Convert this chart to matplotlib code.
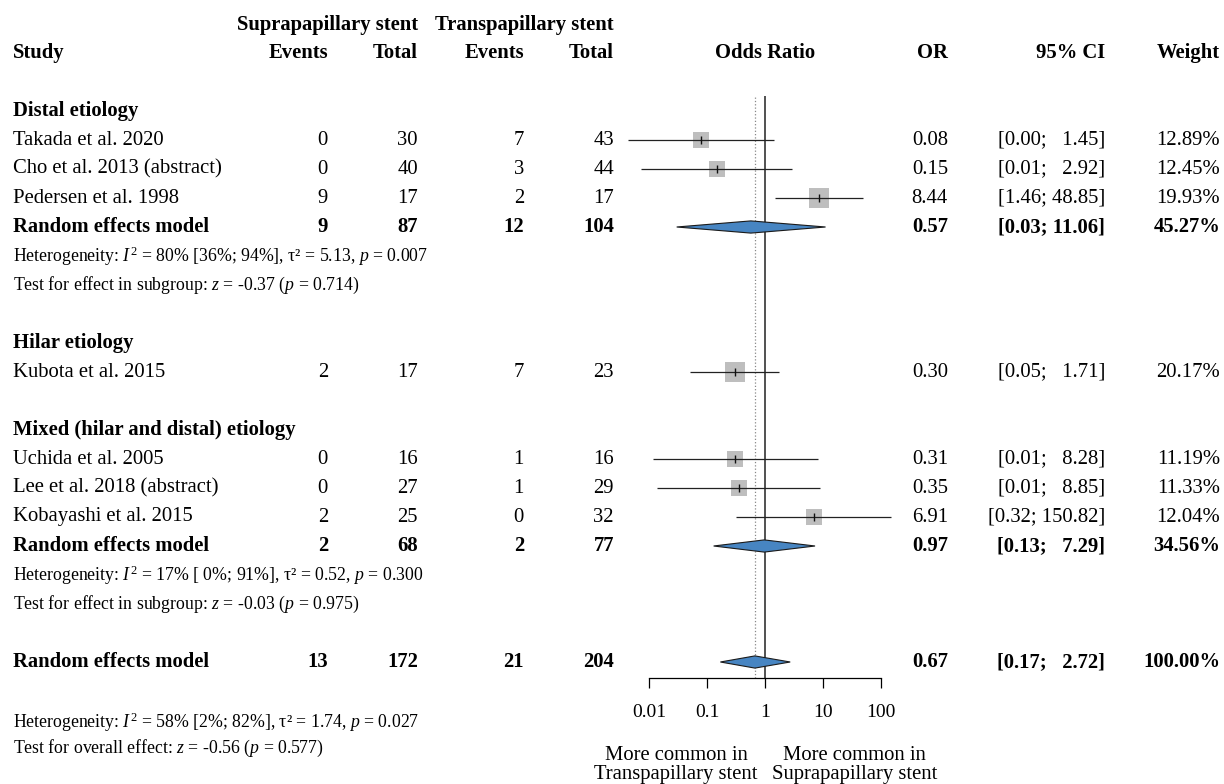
import numpy as np
import matplotlib
matplotlib.use("Agg")
import matplotlib.pyplot as plt

plt.rcParams['font.family'] = ['Liberation Serif', 'DejaVu Serif']
plt.rcParams['mathtext.fontset'] = 'custom'
plt.rcParams['mathtext.rm'] = 'Liberation Serif'
plt.rcParams['mathtext.it'] = 'Liberation Serif:italic'
plt.rcParams['mathtext.bf'] = 'Liberation Serif:bold'

# ---- data ----
studies = ["Takada et al. 2020", "Cho et al. 2013 (abstract)", "Pedersen et al. 1998",
           "Kubota et al. 2015",
           "Uchida et al. 2005", "Lee et al. 2018 (abstract)", "Kobayashi et al. 2015"]
groups = ["Distal etiology"] * 3 + ["Hilar etiology"] + ["Mixed (hilar and distal) etiology"] * 3
ev_supra = [0, 0, 9, 2, 0, 0, 2]
n_supra = [30, 40, 17, 17, 16, 27, 25]
ev_trans = [7, 3, 2, 7, 1, 1, 0]
n_trans = [43, 44, 17, 23, 16, 29, 32]
odds = [0.08, 0.15, 8.44, 0.30, 0.31, 0.35, 6.91]
ci_lo = [0.0044, 0.0072, 1.46, 0.05, 0.0117, 0.0136, 0.32]
ci_hi = [1.45, 2.92, 48.85, 1.71, 8.28, 8.85, 150.82]
weight = [12.89, 12.45, 19.93, 20.17, 11.19, 11.33, 12.04]

# pooled subgroup results (only subgroups with >1 study)
sub_names = ["Distal etiology", "Mixed (hilar and distal) etiology"]
sub_ev_supra = [9, 2]
sub_n_supra = [87, 68]
sub_ev_trans = [12, 2]
sub_n_trans = [104, 77]
sub_or = [0.57, 0.97]
sub_lo = [0.03, 0.13]
sub_hi = [11.06, 7.29]
sub_w = [45.27, 34.56]
sub_het = [r"Heterogeneity: $I^2$ = 80% [36%; 94%], τ² = 5.13, $p$ = 0.007",
           r"Heterogeneity: $I^2$ = 17% [ 0%; 91%], τ² = 0.52, $p$ = 0.300"]
sub_test = [r"Test for effect in subgroup: $z$ = -0.37 ($p$ = 0.714)",
            r"Test for effect in subgroup: $z$ = -0.03 ($p$ = 0.975)"]

tot_ev_supra, tot_n_supra, tot_ev_trans, tot_n_trans = 13, 172, 21, 204
tot_or, tot_lo, tot_hi = 0.67, 0.17, 2.72
tot_het = r"Heterogeneity: $I^2$ = 58% [2%; 82%], τ² = 1.74, $p$ = 0.027"
tot_test = r"Test for overall effect: $z$ = -0.56 ($p$ = 0.577)"

ticks = [0.01, 0.1, 1, 10, 100]
tick_labels = ["0.01", "0.1", "1", "10", "100"]

# ---- layout (pixels) ----
W, H = 1224, 784
Y0, DY = 53, 29          # header row y and row pitch
def ypx(i):
    return Y0 + DY * i

X_STUDY, X_EV1, X_N1, X_EV2, X_N2 = 13, 328, 418, 524, 614
X_OR, X_CI, X_W, X_LAB = 948, 1105, 1220, 765
AX_L, AX_R, AX_TOP, AX_BOT = 649, 881, 96, 678
FS, FS_S = 14.9, 12.8
SQ_COL = '#BEBEBE'
DIA_COL = '#4785C2'
FIG_SP = '\u2007'

fig = plt.figure(figsize=(W / 100, H / 100), dpi=100)
tax = fig.add_axes([0, 0, 1, 1])
tax.set_xlim(0, W)
tax.set_ylim(H, 0)
tax.axis('off')

ax = fig.add_axes([AX_L / W, 1 - AX_BOT / H, (AX_R - AX_L) / W, (AX_BOT - AX_TOP) / H])
ax.patch.set_visible(False)
ax.set_xscale('log')
ax.set_xlim(0.01, 100)
ax.set_ylim((AX_BOT - Y0) / DY, (AX_TOP - Y0) / DY)
for s in ['top', 'left', 'right']:
    ax.spines[s].set_visible(False)
ax.spines['bottom'].set_linewidth(0.9)
ax.set_yticks([])
ax.set_xticks(ticks)
ax.set_xticklabels(tick_labels)
ax.minorticks_off()
ax.tick_params(axis='x', direction='out', length=7.5, width=0.9, labelsize=14, pad=11)

def txt(x, i, s, ha='right', bold=False, size=FS):
    tax.text(x, ypx(i), s, ha=ha, va='center', fontsize=size,
             fontweight='bold' if bold else 'normal')

def ci_text(lo, hi):
    up = f"{hi:.2f}"
    pad = FIG_SP * max(0, 5 - len(up))
    return f"[{lo:.2f}; {pad}{up}]"

def row_values(i, e1, n1, e2, n2, orv, lo, hi, w, bold=False):
    txt(X_EV1, i, str(e1), bold=bold)
    txt(X_N1, i, str(n1), bold=bold)
    txt(X_EV2, i, str(e2), bold=bold)
    txt(X_N2, i, str(n2), bold=bold)
    txt(X_OR, i, f"{orv:.2f}", bold=bold)
    txt(X_CI, i, ci_text(lo, hi), bold=bold)
    txt(X_W, i, f"{w:.2f}%", bold=bold)

def diamond(i, est, lo, hi):
    h = 0.21
    ax.fill([lo, est, hi, est], [i, i - h, i, i + h], facecolor=DIA_COL,
            edgecolor='#1a1a1a', lw=0.8, zorder=4, clip_on=False)

# headers
tax.text(X_N1, 25, "Suprapapillary stent", ha='right', va='center', fontsize=FS, fontweight='bold')
tax.text(X_N2, 25, "Transpapillary stent", ha='right', va='center', fontsize=FS, fontweight='bold')
txt(X_STUDY, 0, "Study", ha='left', bold=True)
for x, lab in [(X_EV1, "Events"), (X_N1, "Total"), (X_EV2, "Events"), (X_N2, "Total"),
               (X_OR, "OR"), (X_CI, "95% CI"), (X_W, "Weight")]:
    txt(x, 0, lab, bold=True)
txt(X_LAB, 0, "Odds Ratio", ha='center', bold=True)

# reference lines
ax.axvline(1, color='#222222', lw=1.1, zorder=1)
ax.axvline(tot_or, color='#888888', lw=0.9, ls=':', zorder=1)

# study rows, grouped
i = 2
for g in ["Distal etiology", "Hilar etiology", "Mixed (hilar and distal) etiology"]:
    txt(X_STUDY, i, g, ha='left', bold=True)
    i += 1
    idx = [k for k in range(len(studies)) if groups[k] == g]
    for k in idx:
        txt(X_STUDY, i, studies[k], ha='left')
        row_values(i, ev_supra[k], n_supra[k], ev_trans[k], n_trans[k],
                   odds[k], ci_lo[k], ci_hi[k], weight[k])
        side = 4.5 * np.sqrt(weight[k]) * 0.72
        ax.scatter(odds[k], i, marker='s', s=side ** 2, color=SQ_COL, lw=0, zorder=2)
        ax.hlines(i, ci_lo[k], ci_hi[k], color='#222222', lw=0.9, zorder=3, clip_on=False)
        ax.scatter(odds[k], i, marker='|', s=30, color='#111111', lw=1.0, zorder=3)
        i += 1
    if g in sub_names:
        j = sub_names.index(g)
        txt(X_STUDY, i, "Random effects model", ha='left', bold=True)
        row_values(i, sub_ev_supra[j], sub_n_supra[j], sub_ev_trans[j], sub_n_trans[j],
                   sub_or[j], sub_lo[j], sub_hi[j], sub_w[j], bold=True)
        diamond(i, sub_or[j], sub_lo[j], sub_hi[j])
        txt(X_STUDY, i + 1, sub_het[j], ha='left', size=FS_S)
        txt(X_STUDY, i + 2, sub_test[j], ha='left', size=FS_S)
        i += 4
    else:
        i += 1

# overall
i = 21
txt(X_STUDY, i, "Random effects model", ha='left', bold=True)
row_values(i, tot_ev_supra, tot_n_supra, tot_ev_trans, tot_n_trans,
           tot_or, tot_lo, tot_hi, 100.0, bold=True)
diamond(i, tot_or, tot_lo, tot_hi)
tax.text(X_STUDY, 722, tot_het, ha='left', va='center', fontsize=FS_S)
tax.text(X_STUDY, 748, tot_test, ha='left', va='center', fontsize=FS_S)

tax.text(758, 765, "More common in\nTranspapillary stent", ha='right', va='center',
         multialignment='center', fontsize=FS, linespacing=1.05)
tax.text(772, 765, "More common in\nSuprapapillary stent", ha='left', va='center',
         multialignment='center', fontsize=FS, linespacing=1.05)

fig.savefig("out.png", dpi=100)
